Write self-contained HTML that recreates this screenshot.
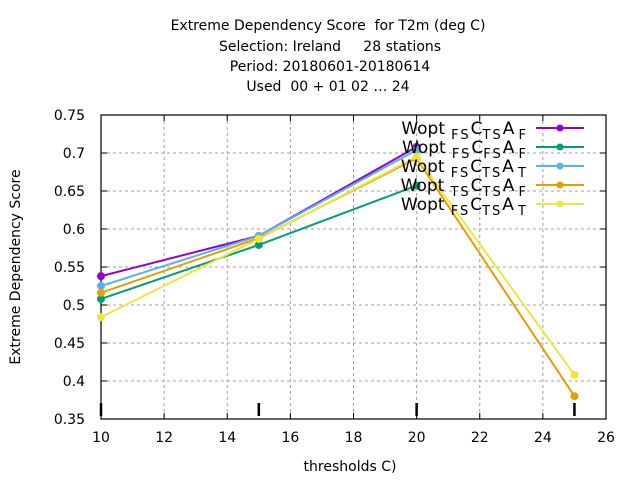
<!DOCTYPE html>
<html><head><meta charset="utf-8"><style>body{margin:0;background:#fff}svg{font-family:"DejaVu Sans","Liberation Sans",sans-serif}</style></head>
<body>
<svg id="c" width="640" height="480" viewBox="0 0 640 480" xmlns="http://www.w3.org/2000/svg">
<g font-size="14" text-anchor="middle" fill="#000">
<text x="328" y="30" xml:space="preserve">Extreme Dependency Score  for T2m (deg C)</text>
<text x="330" y="51" xml:space="preserve">Selection: Ireland     28 stations</text>
<text x="330" y="71">Period: 20180601-20180614</text>
<text x="328" y="91" xml:space="preserve">Used  00 + 01 02 … 24</text>
</g>
<g id="grid"></g><g id="axes"></g><g id="series"></g><g id="legend"></g>
<text x="350" y="471" font-size="14" text-anchor="middle">thresholds C)</text>
<text transform="translate(20,267) rotate(-90)" font-size="14" text-anchor="middle">Extreme Dependency Score</text>
</svg>
<script>
const xTicks=[10,12,14,16,18,20,22,24,26];
const yTicks=[0.35,0.4,0.45,0.5,0.55,0.6,0.65,0.7,0.75];
const yTickLabels=["0.35","0.4","0.45","0.5","0.55","0.6","0.65","0.7","0.75"];
const thresholds=[10,15,20,25];
const seriesNames=[["Wopt","FS","C","TS","A","F"],["Wopt","FS","C","FS","A","F"],["Wopt","FS","C","TS","A","T"],["Wopt","TS","C","TS","A","F"],["Wopt","FS","C","TS","A","T"]];
const s1=[0.538,0.591,0.708,null];
const s2=[0.508,0.579,0.657,null];
const s3=[0.525,0.591,0.704,null];
const s4=[0.516,0.588,0.693,0.380];
const s5=[0.484,0.587,0.695,0.408];
const seriesValues=[s1,s2,s3,s4,s5];
const colors=["#9400d3","#009e73","#56b4e9","#e69f00","#f0e442"];
const L=101,R=606,T=115,B=419;
const X=v=>L+(v-10)/16*(R-L);
const Y=v=>B-(v-0.35)/0.4*(B-T);
const NS="http://www.w3.org/2000/svg";
function mk(p,t,a){const e=document.createElementNS(NS,t);for(const k in a)e.setAttribute(k,a[k]);p.appendChild(e);return e;}
const grid=document.getElementById('grid'),axes=document.getElementById('axes'),ser=document.getElementById('series'),leg=document.getElementById('legend');
xTicks.forEach((t,i)=>{
 if(i>0&&i<xTicks.length-1){const g=mk(grid,'line',{x1:X(t),x2:X(t),y1:T,y2:B,stroke:'#a0a0a0','stroke-dasharray':'3,3'});
 
 }
 const tx=mk(axes,'text',{x:X(t),y:B+23,'font-size':14,'text-anchor':'middle'});tx.textContent=t;
 
 
 mk(axes,'line',{x1:X(t),x2:X(t),y1:B,y2:B-6,stroke:'#000'});mk(axes,'line',{x1:X(t),x2:X(t),y1:T,y2:T+6,stroke:'#000'});
});
yTicks.forEach((t,i)=>{
 if(i>0&&i<yTicks.length-1){const g=mk(grid,'line',{x1:L,x2:R,y1:Y(t),y2:Y(t),stroke:'#a0a0a0','stroke-dasharray':'3,3'});
 
 }
 const tx=mk(axes,'text',{x:L-16,y:Y(t)+5,'font-size':14,'text-anchor':'end'});tx.textContent=yTickLabels[i];
 
 
 mk(axes,'line',{x1:L,x2:L+6,y1:Y(t),y2:Y(t),stroke:'#000'});mk(axes,'line',{x1:R,x2:R-6,y1:Y(t),y2:Y(t),stroke:'#000'});
});
thresholds.forEach(t=>{const m=mk(axes,'line',{x1:X(t),x2:X(t),y1:B-16,y2:B-3,stroke:'#000','stroke-width':2.5});
 
 });
const fr=mk(axes,'rect',{x:L,y:T,width:R-L,height:B-T,fill:'none',stroke:'#000','stroke-width':1.2});


seriesValues.forEach((vals,si)=>{
 const g=mk(ser,'g',{});
 
 
 const pts=[];vals.forEach((v,i)=>{if(v!=null)pts.push([X(thresholds[i]),Y(v)]);});
 mk(g,'polyline',{points:pts.map(p=>p.join(',')).join(' '),fill:'none',stroke:colors[si],'stroke-width':2});
 pts.forEach(p=>{const c=mk(g,'circle',{cx:p[0],cy:p[1],r:4,fill:colors[si]});
 
 });
});
seriesNames.forEach((n,i)=>{
 const y=128+i*19;
 const g=mk(leg,'g',{});
 
 
 const t=mk(g,'text',{x:526,y:y+6,'font-size':17,'text-anchor':'end'});
 t.innerHTML=n[0]+'<tspan font-size="13" dy="5" letter-spacing="2"> '+n[1]+'</tspan><tspan dy="-5">'+n[2]+'</tspan><tspan font-size="13" dy="5" letter-spacing="2">'+n[3]+'</tspan><tspan dy="-5">'+n[4]+'</tspan><tspan font-size="13" dy="5"> '+n[5]+'</tspan>';
 mk(g,'line',{x1:536,x2:584,y1:y,y2:y,stroke:colors[i],'stroke-width':2});
 mk(g,'circle',{cx:560,cy:y,r:3.5,fill:colors[i]});
});
</script>
</body></html>
